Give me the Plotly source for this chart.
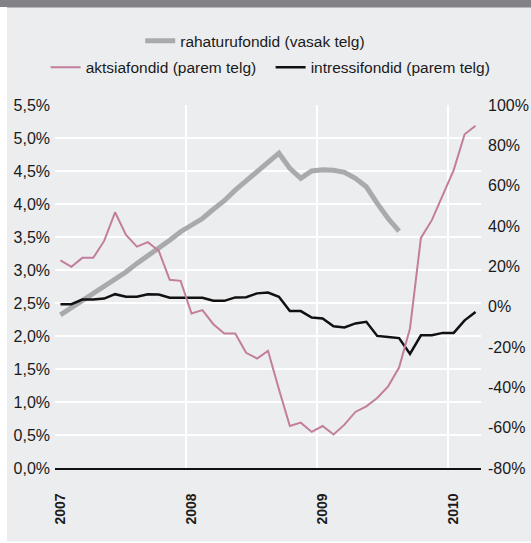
import plotly.graph_objects as go

# monthly observations, Jan 2007 - Mar 2010
months = [f"{y}-{m:02d}" for y in (2007, 2008, 2009, 2010) for m in range(1, 13)][:39]
year_labels = ["2007", "2008", "2009", "2010"]

# rahaturufondid, left axis (%)
rahaturu = [2.32, 2.43, 2.53, 2.63, 2.74, 2.87, 2.97, 3.10, 3.21, 3.33,
            3.45, 3.58, 3.69, 3.78, 3.92, 4.05, 4.21, 4.35, 4.50, 4.63,
            4.77, 4.54, 4.39, 4.50, 4.52, 4.51, 4.48, 4.39, 4.26, 4.01,
            3.78, 3.59, None, None, None, None, None, None, None]

# aktsiafondid, right axis (%)
aktsia = [23.0, 19.8, 24.2, 24.2, 32.6, 46.8, 35.6, 29.8, 32.0, 27.7,
          13.3, 12.8, -3.4, -1.7, -8.7, -13.3, -13.3, -22.9, -25.7, -21.9,
          -41.0, -59.2, -57.5, -62.1, -59.2, -63.4, -58.5, -52.2, -49.4, -45.3,
          -39.5, -30.2, -10.8, 34.1, 42.9, 55.3, 67.7, 85.5, 89.7]

# intressifondid, right axis (%)
intressi = [1.2, 1.2, 3.5, 3.5, 4.0, 6.2, 4.9, 4.9, 6.2, 6.0,
            4.4, 4.4, 4.4, 4.4, 2.9, 2.9, 4.6, 4.7, 6.6, 7.0,
            4.9, -2.2, -2.2, -5.4, -5.9, -9.7, -10.3, -8.3, -7.5, -14.5,
            -15.0, -15.6, -23.4, -14.2, -14.2, -13.0, -13.0, -6.8, -2.6]

left_ticks = [0, 0.5, 1, 1.5, 2, 2.5, 3, 3.5, 4, 4.5, 5, 5.5]
left_labels = ["0,0%", "0,5%", "1,0%", "1,5%", "2,0%", "2,5%",
               "3,0%", "3,5%", "4,0%", "4,5%", "5,0%", "5,5%"]
right_ticks = [-80, -60, -40, -20, 0, 20, 40, 60, 80, 100]
right_labels = ["-80%", "-60%", "-40%", "-20%", "0%", "20%", "40%", "60%", "80%", "100%"]

BG = "#ECEDEF"
FONT = "Liberation Sans, Arial, Helvetica, sans-serif"
x = list(range(len(months)))

fig = go.Figure()
fig.add_trace(go.Scatter(
    x=x, y=rahaturu, customdata=months, name="rahaturufondid (vasak telg)",
    mode="lines", line=dict(color="#A9AAAD", width=5), legend="legend",
))
fig.add_trace(go.Scatter(
    x=x, y=intressi, customdata=months, name="intressifondid (parem telg)",
    mode="lines", line=dict(color="#111111", width=2.5), yaxis="y2",
    legend="legend2", legendrank=2,
))
fig.add_trace(go.Scatter(
    x=x, y=aktsia, customdata=months, name="aktsiafondid (parem telg)",
    mode="lines", line=dict(color="#C27E9C", width=2), yaxis="y2",
    legend="legend2", legendrank=1,
))

fig.update_layout(
    width=531, height=543,
    margin=dict(l=55, r=50, t=105, b=75, autoexpand=False),
    paper_bgcolor=BG, plot_bgcolor=BG,
    font=dict(family=FONT, size=15.5, color="#1a1a1a"),
    showlegend=True,
    legend=dict(orientation="h", x=0.47, xanchor="center", y=1.176, yanchor="middle",
                bgcolor="rgba(0,0,0,0)", font=dict(size=15.5)),
    legend2=dict(orientation="h", x=-0.022, xanchor="left", y=1.103, yanchor="middle",
                 bgcolor="rgba(0,0,0,0)", font=dict(size=15.5), entrywidth=180),
    xaxis=dict(
        range=[-0.5, len(months) - 0.5],
        tickvals=[0, 12, 24, 36], ticktext=year_labels, tickangle=-90,
        tickfont=dict(size=14, weight="bold"),
        showgrid=False, zeroline=False, automargin=False,
        showline=True, linecolor="#111111", linewidth=1.5,
        ticklabelstandoff=18,
        minor=dict(tickvals=[11.5, 23.5, 35.5], showgrid=True,
                   gridcolor="white", gridwidth=1.5),
    ),
    yaxis=dict(
        range=[0, 5.5], tickvals=left_ticks, ticktext=left_labels,
        tickfont=dict(size=16), automargin=False,
        showgrid=True, gridcolor="white", gridwidth=1.5, zeroline=False,
        ticklabelstandoff=4,
    ),
    yaxis2=dict(
        range=[-80, 100], tickvals=right_ticks, ticktext=right_labels,
        tickfont=dict(size=16), automargin=False,
        overlaying="y", side="right", showgrid=False, zeroline=False,
        ticklabelstandoff=6,
    ),
    shapes=[
        dict(type="rect", xref="paper", yref="paper", x0=-0.2, x1=1.2,
             y0=(468 - 7.5) / 363, y1=1.4, fillcolor="#818186", line_width=0),
        dict(type="rect", xref="paper", yref="paper", x0=-0.2, x1=(7 - 55) / 426,
             y0=-0.3, y1=(468 - 7) / 363, fillcolor="white", line_width=0),
        dict(type="rect", xref="paper", yref="paper", x0=-0.2, x1=1.2,
             y0=-0.3, y1=(468 - 541.5) / 363, fillcolor="white", line_width=0),
    ],
)

fig.write_html(
    "out.html",
    config={"displayModeBar": False},
    post_script="document.body.style.margin='0';document.body.style.overflow='hidden';",
)
